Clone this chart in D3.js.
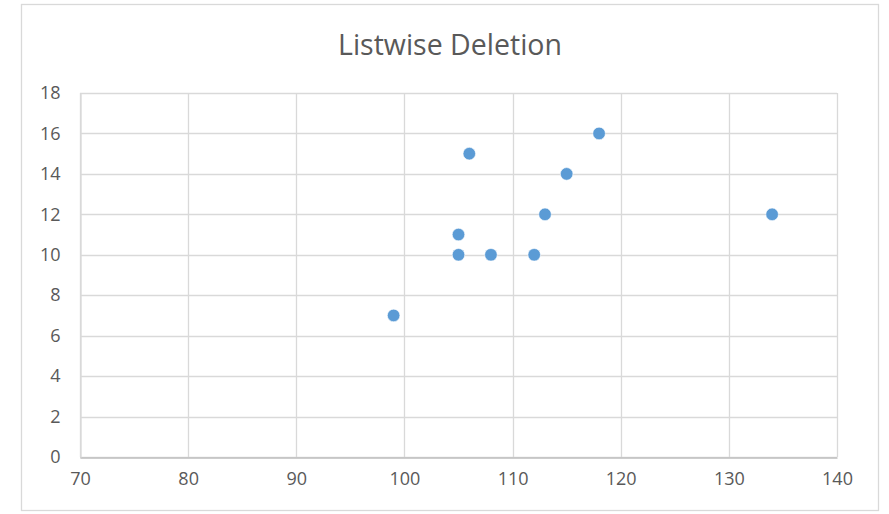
<!DOCTYPE html>
<html>
<head>
<meta charset="utf-8">
<script src="https://cdn.jsdelivr.net/npm/d3@7"></script>
<style>
  html, body { margin: 0; padding: 0; background: #fff; }
  svg text { font-family: "Open Sans", "Noto Sans", sans-serif; fill: #595959; }
</style>
</head>
<body>
<svg id="chart" width="889" height="514"></svg>
<script>
// Paired observations remaining after listwise deletion
const xValues = [99, 105, 105, 106, 108, 112, 113, 115, 118, 134];
const yValues = [7, 10, 11, 15, 10, 10, 12, 14, 16, 12];
const xTicks = [70, 80, 90, 100, 110, 120, 130, 140];
const yTicks = [0, 2, 4, 6, 8, 10, 12, 14, 16, 18];
const chartTitle = "Listwise Deletion";

const svg = d3.select("#chart");
const plot = { left: 80, top: 93, right: 837, bottom: 457 };

// chart frame
svg.append("rect")
  .attr("x", 21.5).attr("y", 4.5)
  .attr("width", 857).attr("height", 506)
  .attr("fill", "#fff").attr("stroke", "#d9d9d9").attr("stroke-width", 1.3);

const x = d3.scaleLinear().domain([70, 140]).range([plot.left, plot.right]);
const y = d3.scaleLinear().domain([0, 18]).range([plot.bottom, plot.top]);

// gridlines
const grid = svg.append("g").attr("stroke", "#d9d9d9").attr("stroke-width", 1.3);
grid.selectAll("line.v").data(xTicks).join("line")
  .attr("x1", d => Math.round(x(d)) + 0.5).attr("x2", d => Math.round(x(d)) + 0.5)
  .attr("y1", plot.top).attr("y2", plot.bottom);
grid.selectAll("line.h").data(yTicks).join("line")
  .attr("y1", d => Math.round(y(d)) + 0.5).attr("y2", d => Math.round(y(d)) + 0.5)
  .attr("x1", plot.left).attr("x2", plot.right);

// axes
const xAxis = d3.axisBottom(x).tickValues(xTicks).tickSize(0).tickPadding(11);
const yAxis = d3.axisLeft(y).tickValues(yTicks).tickSize(0).tickPadding(20);

const gx = svg.append("g").attr("transform", `translate(0,${Math.round(plot.bottom) + 0.5})`).call(xAxis);
gx.select(".domain").attr("stroke", "#bfbfbf").attr("stroke-width", 1.3);
gx.selectAll("text").attr("font-size", 18).attr("dy", "0.9em");

const gy = svg.append("g").attr("transform", `translate(${plot.left + 0.5},0)`).call(yAxis);
gy.select(".domain").attr("stroke", "#d9d9d9").attr("stroke-width", 1.3);
gy.selectAll("text").attr("font-size", 18);

// points
const data = xValues.map((v, i) => ({ x: v, y: yValues[i] }));
svg.append("g").selectAll("circle").data(data).join("circle")
  .attr("cx", d => x(d.x)).attr("cy", d => y(d.y)).attr("r", 6.3)
  .attr("fill", "#5b9bd5").attr("stroke", "#fff").attr("stroke-width", 0.6);

// title
svg.append("text")
  .attr("x", 450).attr("y", 55)
  .attr("text-anchor", "middle")
  .attr("font-size", 28.5)
  .text(chartTitle);
</script>
</body>
</html>
